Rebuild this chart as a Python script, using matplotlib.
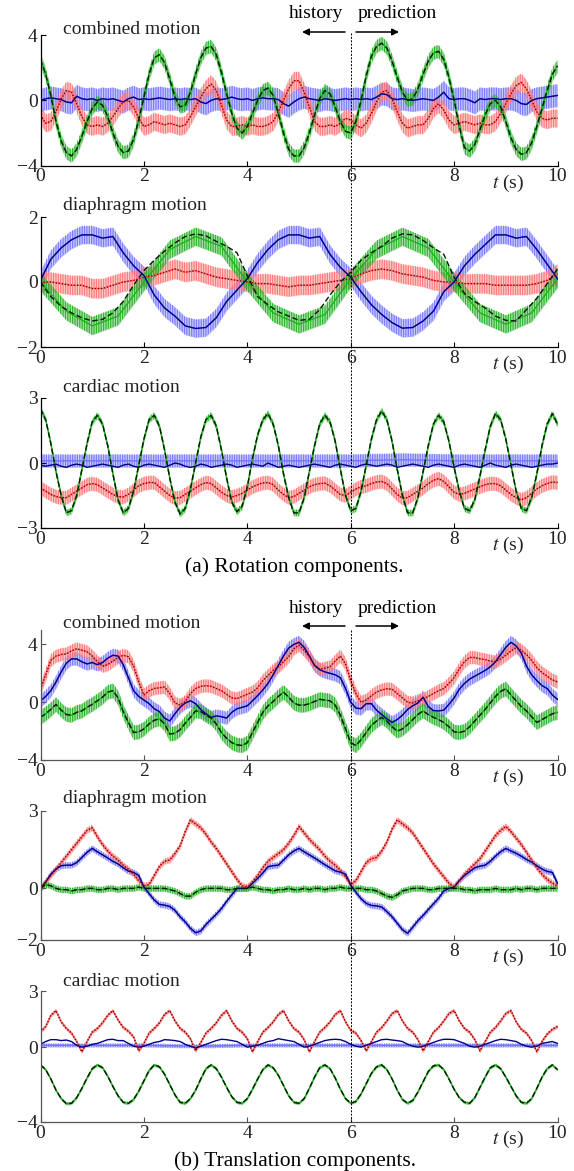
import numpy as np
import matplotlib
matplotlib.use("Agg")
import matplotlib.pyplot as plt
from matplotlib.lines import Line2D

plt.rcParams['font.family'] = ['Liberation Serif', 'DejaVu Serif']
plt.rcParams['mathtext.fontset'] = 'stix'
plt.rcParams['hatch.linewidth'] = 0.9

# time grids (s)
t = np.linspace(0, 10, 101)
t_coarse = np.linspace(0, 10, 51)
t_half = np.linspace(0, 10, 21)
t_sec = np.linspace(0, 10, 11)

# ---------------- (a) rotation ----------------
# combined motion
rot_comb_blue = [
    0.0, 0.1, 0.15, 0.1, 0.05, -0.1, -0.15, 0.25, 0.1, 0.05,
    0.1, 0.0, 0.1, 0.05, 0.1, 0.0, -0.1, 0.1, 0.2, 0.05,
    0.1, 0.05, 0.1, 0.15, 0.1, 0.05, 0.1, 0.05, 0.1, 0.05,
    0.1, -0.1, -0.2, 0.0, 0.1, 0.05, 0.1, 0.2, 0.1, 0.05,
    0.1, 0.0, 0.1, 0.15, 0.1, 0.1, 0.05, -0.2, -0.35, -0.1,
    0.1, 0.2, 0.1, 0.05, 0.0, 0.1, 0.05, 0.0, 0.05, 0.1,
    0.05, 0.1, 0.05, 0.1, 0.05, 0.2, 0.4, 0.35, 0.1, 0.05,
    0.1, 0.05, 0.0, 0.05, 0.1, 0.05, 0.0, 0.2, 0.5, 0.1,
    0.05, 0.1, 0.1, 0.0, -0.15, 0.1, 0.05, 0.1, 0.1, 0.05,
    0.1, 0.1, 0.0, -0.2, -0.25, 0.0, 0.1, 0.15, 0.2, 0.25,
    0.3]
rot_comb_red = [
    -0.9, -1.4, -1.3, -0.7, 0.1, 0.6, 0.5, -0.2, -1.0, -1.5,
    -1.6, -1.5, -1.6, -1.4, -1.0, -0.5, -0.1, 0.0, -0.4, -1.1,
    -1.6, -1.5, -1.3, -1.4, -1.5, -1.4, -1.5, -1.6, -1.5, -1.0,
    -0.4, 0.2, 0.7, 1.0, 0.6, -0.3, -1.2, -1.6, -1.6, -1.5,
    -1.6, -1.5, -1.6, -1.6, -1.5, -1.3, -0.7, 0.0, 0.7, 1.2,
    1.2, 0.5, -0.4, -1.3, -1.6, -1.6, -1.5, -1.6, -1.4, -1.1,
    -1.2, -1.5, -1.7, -1.4, -0.8, -0.1, 0.5, 0.6, 0.1, -0.7,
    -1.4, -1.7, -1.6, -1.5, -1.5, -1.1, -0.5, -0.2, -0.6, -1.2,
    -1.5, -1.4, -1.3, -1.4, -1.5, -1.4, -1.5, -1.5, -1.3, -0.8,
    -0.2, 0.4, 0.9, 1.1, 0.7, 0.0, -0.7, -1.1, -1.2, -1.1,
    -1.1]
rot_comb_green = [
    2.5, 1.6, 0.3, -1.3, -2.5, -3.2, -3.4, -3.0, -2.2, -1.3,
    -0.5, -0.1, -0.3, -1.0, -2.0, -2.8, -3.2, -3.1, -2.4, -1.2,
    0.2, 1.6, 2.6, 2.8, 2.3, 1.3, 0.2, -0.4, -0.3, 0.5,
    1.6, 2.6, 3.2, 3.3, 2.8, 1.7, 0.4, -0.8, -1.7, -2.0,
    -1.6, -0.8, 0.0, 0.6, 0.75, 0.3, -0.8, -2.0, -3.0, -3.4,
    -3.4, -2.9, -2.0, -0.9, 0.1, 0.6, 0.4, -0.4, -1.3, -1.9,
    -2.0, -1.3, 0.0, 1.5, 2.7, 3.3, 3.5, 3.2, 2.4, 1.4,
    0.5, 0.0, 0.1, 0.7, 1.6, 2.4, 2.9, 3.0, 2.5, 1.4,
    0.0, -1.6, -2.9, -3.1, -2.7, -1.8, -0.9, -0.2, 0.0, -0.4,
    -1.3, -2.3, -3.0, -3.3, -3.2, -2.6, -1.6, -0.5, 0.6, 1.6,
    2.1]

# diaphragm motion (0.2 s grid)
rot_diaph_blue = [
    0.05, 0.7, 1.05, 1.3, 1.45, 1.45, 1.35, 1.4, 0.9, 0.5,
    0.2, -0.4, -0.8, -1.05, -1.35, -1.43, -1.4, -1.1, -0.6, -0.25,
    0.1, 0.6, 1.0, 1.3, 1.45, 1.45, 1.35, 1.4, 0.85, 0.45,
    0.15, -0.3, -0.7, -1.0, -1.25, -1.42, -1.4, -1.2, -0.9, -0.3,
    0.0, 0.5, 0.85, 1.15, 1.45, 1.45, 1.35, 1.4, 1.0, 0.55,
    0.1]
rot_diaph_red = [
    0.0, 0.0, -0.05, -0.1, -0.1, -0.2, -0.2, -0.1, 0.0, 0.05,
    0.15, 0.2, 0.3, 0.4, 0.3, 0.35, 0.25, 0.15, 0.1, 0.05,
    0.0, -0.05, -0.05, -0.1, -0.15, -0.1, -0.1, -0.05, 0.0, 0.05,
    0.1, 0.25, 0.35, 0.4, 0.35, 0.25, 0.2, 0.15, 0.05, 0.0,
    0.0, -0.05, -0.05, -0.05, -0.1, -0.1, -0.1, -0.1, -0.05, 0.05,
    0.25]
rot_diaph_green = [
    0.0, -0.45, -0.75, -0.95, -1.1, -1.2, -1.15, -0.95, -0.6, -0.1,
    0.35, 0.67, 0.95, 1.2, 1.4, 1.48, 1.42, 1.25, 1.1, 0.9,
    0.2, -0.45, -0.7, -0.92, -1.05, -1.18, -1.15, -0.85, -0.4, 0.0,
    0.3, 0.67, 0.9, 1.1, 1.35, 1.48, 1.45, 1.28, 1.05, 0.85,
    0.15, -0.35, -0.6, -0.8, -1.05, -1.18, -1.2, -0.85, -0.5, -0.05,
    0.4]
# measured (noisy) green trace level, 0.5 s grid
rot_diaph_green_meas = [0.0, -0.9, -1.35, -1.05, 0.0, 1.0, 1.4, 1.1, 0.0, -0.95,
                        -1.3, -1.0, 0.1, 1.0, 1.4, 1.05, 0.0, -0.95, -1.3, -0.95, 0.1]

# cardiac motion
rot_card_blue = [
    -0.1, -0.15, -0.1, -0.05, -0.15, -0.2, -0.1, -0.05, -0.1, -0.2,
    -0.15, -0.1, -0.05, -0.1, -0.15, -0.2, -0.1, -0.05, -0.15, -0.2,
    -0.1, -0.05, -0.1, -0.15, -0.2, -0.1, 0.0, -0.05, -0.15, -0.2,
    -0.15, -0.05, -0.1, -0.2, -0.15, -0.1, -0.05, -0.1, -0.2, -0.15,
    -0.1, -0.05, -0.1, -0.15, 0.0, -0.1, -0.2, -0.15, -0.1, -0.15,
    -0.2, -0.15, -0.1, -0.05, -0.1, -0.15, -0.2, -0.1, -0.05, -0.1,
    -0.15, -0.2, -0.1, -0.05, -0.1, -0.15, -0.1, -0.05, -0.1, -0.2,
    -0.15, -0.1, -0.05, -0.1, -0.15, -0.2, -0.1, -0.05, -0.1, -0.15,
    -0.2, -0.1, -0.05, -0.1, -0.15, -0.2, -0.1, 0.0, -0.1, -0.15,
    -0.2, -0.1, -0.05, -0.1, -0.15, -0.2, -0.15, -0.1, -0.05, -0.05,
    0.0]
rot_card_blue_meas = [0.1, 0.1, 0.1, 0.1, 0.1, 0.1, 0.1, 0.15, 0.1, 0.1, 0.1]
rot_card_red = [
    -1.15, -1.3, -1.45, -1.55, -1.6, -1.6, -1.45, -1.3, -1.15, -1.0,
    -0.95, -1.0, -1.15, -1.3, -1.45, -1.55, -1.57, -1.45, -1.25, -1.05,
    -0.95, -0.9, -0.9, -1.1, -1.3, -1.5, -1.62, -1.6, -1.45, -1.3,
    -1.15, -1.0, -0.9, -0.95, -1.15, -1.35, -1.5, -1.57, -1.5, -1.4,
    -1.25, -1.1, -1.0, -0.92, -0.9, -1.0, -1.25, -1.45, -1.6, -1.55,
    -1.4, -1.25, -1.1, -1.0, -0.95, -0.93, -1.05, -1.25, -1.45, -1.5,
    -1.35, -1.2, -1.1, -1.05, -0.95, -0.88, -0.85, -0.95, -1.2, -1.45,
    -1.62, -1.6, -1.45, -1.3, -1.15, -0.95, -0.8, -0.72, -0.85, -1.1,
    -1.35, -1.45, -1.4, -1.3, -1.2, -1.1, -1.0, -0.95, -0.95, -1.05,
    -1.25, -1.45, -1.6, -1.7, -1.6, -1.4, -1.2, -1.05, -0.95, -0.88,
    -0.9]
rot_card_green = [
    2.5, 2.0, 0.9, -0.4, -1.5, -2.3, -2.2, -1.5, -0.3, 0.9,
    1.9, 2.2, 1.8, 0.8, -0.5, -1.7, -2.3, -2.1, -1.3, -0.1,
    1.1, 2.0, 2.2, 1.7, 0.6, -0.7, -1.8, -2.35, -2.1, -1.2,
    0.0, 1.2, 2.0, 2.2, 1.7, 0.6, -0.7, -1.8, -2.25, -2.0,
    -1.1, 0.2, 1.3, 2.0, 2.28, 1.8, 0.8, -0.5, -1.6, -2.3,
    -2.3, -1.6, -0.4, 0.8, 1.8, 2.2, 1.9, 1.0, -0.3, -1.5,
    -2.2, -2.1, -1.3, -0.1, 1.1, 2.0, 2.4, 2.0, 1.0, -0.3,
    -1.5, -2.3, -2.3, -1.6, -0.4, 0.8, 1.8, 2.2, 1.9, 1.0,
    -0.2, -1.3, -2.1, -2.2, -1.7, -0.6, 0.6, 1.7, 2.28, 2.0,
    1.1, -0.1, -1.3, -2.1, -2.2, -1.6, -0.5, 0.8, 1.8, 2.28,
    1.8]

# ---------------- (b) translation ----------------
tra_comb_blue = [
    0.1, 0.4, 0.8, 1.4, 2.1, 2.7, 3.0, 3.0, 2.8, 2.65,
    2.75, 2.6, 2.75, 3.05, 3.25, 3.2, 2.6, 1.7, 0.8, 0.4,
    0.15, -0.1, -0.45, -0.65, -1.1, -1.3, -0.8, -0.35, -0.05, 0.1,
    -0.1, -0.5, -0.8, -1.05, -0.95, -1.0, -1.1, -0.7, -0.45, -0.35,
    -0.25, 0.1, 0.45, 0.85, 1.3, 1.9, 2.55, 3.2, 3.75, 4.0,
    4.15, 3.8, 3.2, 2.55, 2.25, 2.1, 2.0, 1.9, 1.7, 0.95,
    0.0, -0.4, -0.45, -0.1, -0.1, -0.55, -0.85, -1.15, -1.4, -1.2,
    -0.9, -0.5, -0.25, -0.05, 0.35, -0.3, -0.58, -0.6, -0.55, -0.15,
    0.3, 0.9, 1.3, 1.6, 1.8, 2.0, 2.2, 2.45, 2.8, 3.3,
    3.8, 4.15, 3.9, 3.4, 2.5, 1.9, 1.5, 1.15, 0.95, 0.5,
    0.2]
tra_comb_red = [
    0.9, 1.9, 2.9, 3.2, 3.3, 3.35, 3.55, 3.7, 3.6, 3.5,
    3.2, 2.8, 2.5, 2.6, 2.85, 3.1, 3.25, 3.15, 2.5, 1.4,
    0.5, 0.8, 0.95, 1.0, 1.05, 0.6, -0.05, -0.2, 0.05, 0.6,
    0.95, 1.1, 1.15, 1.1, 0.95, 0.8, 0.55, 0.3, 0.25, 0.4,
    0.55, 0.7, 1.0, 1.5, 1.85, 2.2, 2.45, 2.8, 3.15, 3.7,
    3.95, 3.6, 3.15, 2.6, 2.3, 2.35, 2.45, 2.85, 3.2, 2.65,
    1.5, 0.6, 0.0, 0.15, 0.45, 0.7, 0.85, 0.93, 0.9, 0.6,
    0.3, 0.0, -0.05, 0.1, 0.2, 0.4, 0.6, 0.8, 0.95, 1.3,
    1.7, 2.3, 2.8, 3.1, 3.1, 3.0, 2.95, 2.85, 2.8, 3.0,
    3.25, 3.55, 3.8, 3.6, 3.3, 2.9, 2.4, 2.05, 1.8, 1.55,
    1.4]
tra_comb_green = [
    -1.05, -0.8, -0.5, -0.15, -0.55, -0.85, -0.9, -0.7, -0.6, -0.35,
    -0.15, 0.1, 0.35, 0.7, 0.8, 0.3, -0.65, -1.4, -2.1, -2.05,
    -1.85, -1.5, -1.25, -1.15, -1.5, -2.2, -2.15, -1.9, -1.45, -1.05,
    -0.6, -0.65, -0.9, -1.1, -1.5, -2.1, -2.5, -2.8, -2.95, -3.0,
    -2.8, -2.1, -1.4, -0.7, -0.25, 0.05, 0.4, 0.7, 0.35, -0.05,
    -0.2, -0.2, -0.1, 0.05, 0.2, 0.15, 0.1, -0.2, -0.9, -1.85,
    -2.8, -3.0, -2.6, -2.1, -1.6, -1.3, -1.05, -1.3, -1.7, -2.0,
    -1.85, -1.55, -1.2, -0.85, -0.6, -0.85, -1.05, -1.2, -1.4, -1.7,
    -2.05, -2.1, -2.0, -1.7, -1.3, -0.9, -0.5, -0.05, 0.4, 0.75,
    0.93, 0.5, 0.1, -0.3, -0.6, -1.0, -1.4, -1.2, -1.0, -0.8,
    -0.7]

tra_diaph_blue = [
    0.0, 0.25, 0.55, 0.75, 0.88, 0.9, 0.9, 1.0, 1.2, 1.4,
    1.55, 1.42, 1.3, 1.18, 1.05, 0.95, 0.8, 0.67, 0.62, 0.5,
    0.05, -0.2, -0.45, -0.62, -0.65, -0.7, -0.85, -1.1, -1.3, -1.55,
    -1.72, -1.65, -1.4, -1.2, -1.0, -0.78, -0.5, -0.25, 0.0, 0.0,
    0.0, 0.2, 0.39, 0.6, 0.84, 0.88, 0.9, 1.1, 1.3, 1.45,
    1.55, 1.42, 1.3, 1.18, 1.05, 0.92, 0.8, 0.68, 0.63, 0.55,
    0.13, -0.15, -0.4, -0.58, -0.66, -0.68, -0.72, -0.9, -1.1, -1.35,
    -1.6, -1.74, -1.5, -1.25, -1.05, -0.82, -0.6, -0.38, -0.1, 0.0,
    0.05, 0.3, 0.5, 0.65, 0.8, 0.86, 0.9, 1.05, 1.25, 1.42,
    1.55, 1.45, 1.36, 1.25, 1.12, 1.02, 0.88, 0.75, 0.66, 0.62,
    0.19]
tra_diaph_red = [
    0.0, 0.25, 0.5, 0.75, 1.0, 1.25, 1.5, 1.75, 2.0, 2.25,
    2.35, 2.0, 1.7, 1.45, 1.25, 1.1, 0.9, 0.75, 0.55, 0.3,
    0.1, 0.15, 0.5, 0.85, 1.05, 1.1, 1.35, 1.65, 2.2, 2.65,
    2.5, 2.35, 2.1, 1.8, 1.55, 1.25, 0.95, 0.65, 0.35, 0.1,
    0.05, 0.25, 0.5, 0.8, 1.05, 1.2, 1.35, 1.5, 1.75, 2.05,
    2.4, 2.15, 1.9, 1.7, 1.5, 1.25, 1.05, 0.9, 0.7, 0.45,
    0.15, 0.3, 0.65, 1.0, 1.15, 1.2, 1.45, 1.8, 2.3, 2.65,
    2.5, 2.35, 2.15, 1.85, 1.55, 1.25, 0.95, 0.7, 0.45, 0.2,
    0.05, 0.3, 0.55, 0.75, 0.95, 1.15, 1.45, 1.75, 2.05, 2.25,
    2.4, 2.2, 1.95, 1.7, 1.4, 1.1, 0.8, 0.55, 0.35, 0.2,
    0.1]
tra_diaph_green = [
    0.0, 0.15, 0.1, 0.0, -0.05, -0.05, -0.1, -0.05, -0.05, 0.0,
    0.0, -0.05, -0.05, 0.0, 0.0, -0.05, 0.0, 0.0, 0.0, 0.05,
    0.0, 0.0, 0.0, 0.0, 0.0, -0.05, -0.1, -0.2, -0.3, -0.3,
    -0.15, -0.05, 0.0, 0.0, 0.0, 0.0, -0.05, -0.05, 0.0, 0.0,
    0.0, 0.05, 0.0, -0.05, -0.05, -0.1, -0.05, -0.05, 0.0, -0.05,
    -0.05, 0.0, -0.05, 0.0, 0.0, -0.05, 0.0, 0.0, 0.05, 0.0,
    0.0, 0.0, 0.0, -0.05, -0.05, -0.1, -0.2, -0.3, -0.35, -0.25,
    -0.1, -0.05, 0.0, 0.0, 0.0, -0.05, -0.05, 0.0, 0.0, 0.0,
    0.0, 0.0, -0.05, -0.05, -0.1, -0.05, -0.05, -0.05, 0.0, -0.05,
    -0.05, -0.05, 0.0, -0.05, 0.0, 0.0, -0.05, 0.0, 0.0, 0.0,
    0.0]

tra_card_blue = [
    0.15, 0.3, 0.4, 0.4, 0.35, 0.38, 0.3, 0.1, 0.0, 0.05,
    0.15, 0.2, 0.3, 0.4, 0.42, 0.35, 0.35, 0.2, 0.05, 0.0,
    0.05, 0.15, 0.25, 0.3, 0.4, 0.38, 0.35, 0.3, 0.15, 0.05,
    -0.05, 0.05, 0.15, 0.25, 0.35, 0.42, 0.4, 0.35, 0.3, 0.15,
    0.0, 0.05, 0.1, 0.2, 0.3, 0.35, 0.45, 0.4, 0.35, 0.3,
    0.15, 0.0, 0.05, 0.15, 0.25, 0.35, 0.4, 0.42, 0.4, 0.3,
    0.15, 0.05, 0.0, 0.1, 0.2, 0.3, 0.4, 0.42, 0.38, 0.35,
    0.3, 0.15, 0.05, 0.0, 0.05, 0.15, 0.25, 0.35, 0.42, 0.42,
    0.4, 0.3, 0.2, 0.05, 0.0, 0.05, 0.15, 0.25, 0.35, 0.42,
    0.4, 0.35, 0.3, 0.15, 0.05, 0.0, 0.05, 0.2, 0.25, 0.3,
    0.2]
tra_card_blue_meas = [0.1, 0.1, 0.1, 0.05, 0.1, 0.1, 0.1, 0.1, 0.1, 0.1, 0.1]
tra_card_red = [
    0.82, 1.1, 1.7, 1.95, 1.35, 1.0, 0.75, 0.3, -0.25, 0.3,
    0.8, 1.0, 1.3, 1.7, 1.95, 1.45, 1.05, 0.85, 0.55, -0.2,
    0.2, 0.75, 1.0, 1.3, 1.75, 1.95, 1.4, 1.0, 0.8, 0.45,
    -0.2, 0.25, 0.75, 1.0, 1.3, 1.7, 1.95, 1.4, 1.0, 0.8,
    0.45, -0.25, 0.3, 0.8, 1.05, 1.35, 1.75, 1.95, 1.4, 1.0,
    0.8, 0.4, -0.25, 0.3, 0.8, 1.05, 1.35, 1.75, 1.95, 1.35,
    0.9, 0.75, 0.35, -0.2, 0.3, 0.8, 1.05, 1.4, 1.8, 1.95,
    1.4, 1.0, 0.8, 0.4, -0.2, 0.3, 0.8, 1.05, 1.4, 1.8,
    1.95, 1.4, 1.0, 0.8, 0.4, -0.2, 0.3, 0.8, 1.05, 1.4,
    1.8, 1.95, 1.35, 0.95, 0.75, 0.35, -0.25, 0.3, 0.7, 0.95,
    1.1]
tra_card_green = [
    -0.95, -1.2, -1.7, -2.3, -2.75, -3.02, -3.0, -2.7, -2.2, -1.65,
    -1.15, -0.95, -1.1, -1.55, -2.1, -2.6, -2.95, -3.0, -2.8, -2.35,
    -1.8, -1.25, -0.95, -1.05, -1.45, -2.0, -2.55, -2.95, -3.0, -2.75,
    -2.3, -1.7, -1.15, -0.95, -1.15, -1.6, -2.15, -2.65, -2.95, -3.0,
    -2.75, -2.25, -1.7, -1.2, -0.95, -1.1, -1.5, -2.05, -2.6, -2.95,
    -3.0, -2.75, -2.2, -1.6, -1.1, -0.95, -1.15, -1.65, -2.25, -2.75,
    -3.0, -2.9, -2.5, -1.95, -1.4, -1.05, -0.95, -1.2, -1.7, -2.3,
    -2.8, -3.0, -2.85, -2.4, -1.85, -1.3, -1.0, -0.95, -1.2, -1.7,
    -2.25, -2.7, -2.95, -3.0, -2.7, -2.15, -1.6, -1.1, -0.95, -1.15,
    -1.6, -2.1, -2.6, -2.95, -3.0, -2.75, -2.2, -1.6, -1.15, -0.95,
    -1.2]

x_ticks = [0, 2, 4, 6, 8, 10]
titles = ["combined motion", "diaphragm motion", "cardiac motion"]

# colours
C_BLUE, C_RED, C_GREEN = '#7373ff', '#ff7373', '#22b022'
C_NAVY, C_DRED, C_DGREEN = '#000080', '#800000', '#001a00'
FS = 14

W, H = 574, 1171
fig = plt.figure(figsize=(W / 100, H / 100), dpi=100)


def fx(x):
    return x / W


def fy(y):
    return 1 - y / H


def add_panel(top, bottom, ylim, yticks, spine_col):
    ax = fig.add_axes([fx(40.5), fy(bottom), fx(517), (bottom - top) / H])
    ax.set_xlim(0, 10)
    ax.set_ylim(*ylim)
    ax.set_xticks(x_ticks)
    ax.set_yticks(yticks)
    ax.spines[['top', 'right']].set_visible(False)
    for s in ['left', 'bottom']:
        ax.spines[s].set_color(spine_col)
        ax.spines[s].set_linewidth(0.9)
    ax.tick_params(direction='in', length=3.5, width=0.8, color=spine_col,
                   labelsize=FS, pad=2, labelcolor='#222222')
    ax.text(9.05, -0.135, r'$t$ (s)', transform=ax.get_xaxis_transform(),
            ha='center', va='center', fontsize=FS, color='#222222')
    return ax


def measured(ax, tt, c, half, col):
    # noisy measured trace, drawn as a spiky band around its level
    c = np.asarray(c)
    ax.fill_between(tt, c - half, c + half, color=col, alpha=0.35, lw=0)
    ax.fill_between(tt, c - half, c + half, facecolor='none', edgecolor=col,
                    hatch='|||||||', lw=0, alpha=0.9)
    ax.plot(tt, c, color=col, lw=1.0)


def predicted(ax, tt, blue, red, green):
    ax.plot(tt, blue, color=C_NAVY, lw=1.0)
    ax.plot(tt, red, color=C_DRED, lw=1.0, ls=(0, (1, 1.2)))
    ax.plot(tt, green, color=C_DGREEN, lw=1.0, ls=(0, (4, 2)))


# ---- (a) rotation panels ----
ax = add_panel(35, 165.7, (-4, 4), [-4, 0, 4], 'black')
measured(ax, t, rot_comb_blue, 0.7, C_BLUE)
measured(ax, t, rot_comb_red, 0.55, C_RED)
measured(ax, t, rot_comb_green, 0.4, C_GREEN)
predicted(ax, t, rot_comb_blue, rot_comb_red, rot_comb_green)

ax = add_panel(217, 347, (-2, 2), [-2, 0, 2], 'black')
measured(ax, t_coarse, rot_diaph_blue, 0.28, C_BLUE)
measured(ax, t_coarse, rot_diaph_red, 0.3, C_RED)
measured(ax, t_half, rot_diaph_green_meas, 0.28, C_GREEN)
predicted(ax, t_coarse, rot_diaph_blue, rot_diaph_red, rot_diaph_green)

ax = add_panel(398, 528, (-3, 3), [-3, 0, 3], 'black')
measured(ax, t_sec, rot_card_blue_meas, 0.3, C_BLUE)
measured(ax, t, rot_card_red, 0.32, C_RED)
measured(ax, t, rot_card_green, 0.15, C_GREEN)
predicted(ax, t, rot_card_blue, rot_card_red, rot_card_green)

# ---- (b) translation panels ----
GREY = '#555555'
ax = add_panel(630, 760, (-4, 5), [-4, 0, 4], GREY)
measured(ax, t, tra_comb_blue, 0.45, C_BLUE)
measured(ax, t, tra_comb_red, 0.45, C_RED)
measured(ax, t, tra_comb_green, 0.5, C_GREEN)
predicted(ax, t, tra_comb_blue, tra_comb_red, tra_comb_green)

ax = add_panel(811, 940, (-2, 3), [-2, 0, 3], GREY)
measured(ax, t, tra_diaph_blue, 0.12, C_BLUE)
measured(ax, t, tra_diaph_red, 0.12, C_RED)
measured(ax, t, tra_diaph_green, 0.12, C_GREEN)
predicted(ax, t, tra_diaph_blue, tra_diaph_red, tra_diaph_green)

ax = add_panel(991, 1122, (-4, 3), [-4, 0, 3], GREY)
measured(ax, t_sec, tra_card_blue_meas, 0.1, C_BLUE)
measured(ax, t, tra_card_red, 0.1, C_RED)
measured(ax, t, tra_card_green, 0.08, C_GREEN)
predicted(ax, t, tra_card_blue, tra_card_red, tra_card_green)

# panel titles
for base, name in zip([34, 210, 392, 628, 803, 986], titles * 2):
    fig.text(fx(63), fy(base), name, fontsize=FS, va='baseline', color='#222222')

# history / prediction markers and the t = 6 s split line
x6 = 40.5 + 6 * 51.7
for txt_y, arr_y, y0, y1 in [(18, 32, 33, 528), (613, 626, 630, 1122)]:
    fig.text(fx(316), fy(txt_y), 'history', fontsize=FS, ha='center', va='baseline')
    fig.text(fx(397), fy(txt_y), 'prediction', fontsize=FS, ha='center', va='baseline')
    fig.add_artist(plt.Annotation('', xy=(fx(302), fy(arr_y)), xytext=(fx(345), fy(arr_y)),
                                  xycoords='figure fraction',
                                  arrowprops=dict(arrowstyle='-|>', color='black', lw=1.1,
                                                  mutation_scale=10, shrinkA=0, shrinkB=0)))
    fig.add_artist(plt.Annotation('', xy=(fx(399), fy(arr_y)), xytext=(fx(356), fy(arr_y)),
                                  xycoords='figure fraction',
                                  arrowprops=dict(arrowstyle='-|>', color='black', lw=1.1,
                                                  mutation_scale=10, shrinkA=0, shrinkB=0)))
    fig.add_artist(Line2D([fx(x6), fx(x6)], [fy(y0), fy(y1)], transform=fig.transFigure,
                          color='black', lw=0.7, ls=(0, (2, 1.5))))

fig.text(fx(294), fy(567), '(a) Rotation components.', fontsize=15.5, ha='center', va='center')
fig.text(fx(295), fy(1161), '(b) Translation components.', fontsize=15.5, ha='center', va='center')

fig.savefig('out.png', dpi=100)
